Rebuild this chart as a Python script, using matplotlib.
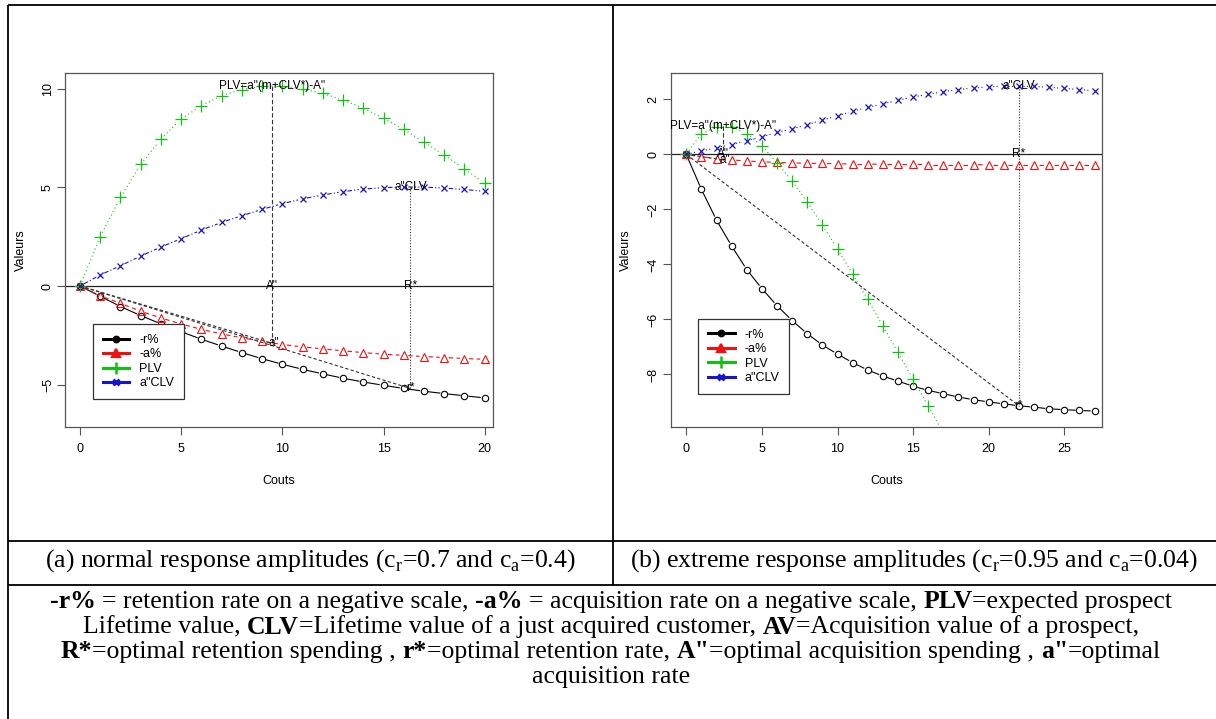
import numpy as np
import matplotlib
matplotlib.use("Agg")
import matplotlib.pyplot as plt
from matplotlib.lines import Line2D

plt.rcParams['font.family'] = ['Liberation Sans', 'DejaVu Sans']

# ---- data ----
x_left = np.arange(21)
r_left = [0, -0.52, -1.04, -1.50, -1.92, -2.32, -2.70, -3.05, -3.38, -3.69, -3.97,
          -4.23, -4.46, -4.68, -4.87, -5.04, -5.20, -5.34, -5.46, -5.57, -5.68]
a_left = [0, -0.50, -0.88, -1.28, -1.62, -1.93, -2.20, -2.43, -2.63, -2.81, -2.97,
          -3.09, -3.19, -3.29, -3.38, -3.46, -3.52, -3.58, -3.63, -3.68, -3.72]
plv_left = [0, 2.50, 4.50, 6.18, 7.45, 8.48, 9.15, 9.66, 9.97, 10.14, 10.15,
            10.0, 9.77, 9.44, 9.02, 8.51, 7.95, 7.29, 6.65, 5.94, 5.21]
aclv_left = [0, 0.56, 1.03, 1.52, 1.98, 2.40, 2.84, 3.23, 3.57, 3.89, 4.18,
             4.42, 4.62, 4.79, 4.92, 4.99, 5.03, 5.02, 4.97, 4.90, 4.80]

x_right = np.arange(28)
r_right = [0, -1.27, -2.39, -3.33, -4.19, -4.88, -5.50, -6.04, -6.52, -6.93, -7.26,
           -7.57, -7.84, -8.06, -8.24, -8.43, -8.58, -8.70, -8.82, -8.92, -9.00,
           -9.07, -9.14, -9.19, -9.25, -9.28, -9.31, -9.33]
a_right = [0, -0.08, -0.15, -0.20, -0.24, -0.27, -0.29, -0.31, -0.32, -0.33, -0.34,
           -0.35, -0.35, -0.36, -0.36, -0.36, -0.37, -0.37, -0.37, -0.37, -0.38,
           -0.38, -0.38, -0.38, -0.38, -0.38, -0.38, -0.38]
plv_right = [0, 0.76, 1.00, 1.00, 0.76, 0.31, -0.31, -0.97, -1.73, -2.58, -3.43,
             -4.35, -5.27, -6.24, -7.20, -8.18, -9.15, -10.13]
aclv_right = [0, 0.13, 0.24, 0.36, 0.50, 0.64, 0.80, 0.93, 1.08, 1.25, 1.40,
              1.57, 1.71, 1.84, 1.97, 2.09, 2.19, 2.28, 2.36, 2.41, 2.46,
              2.48, 2.48, 2.47, 2.44, 2.40, 2.36, 2.31]

# optimum points (A'', PLV max, a'', R*, a''CLV, r*)
opt_left = dict(A=9.47, plv=10.15, a=-2.9, R=16.33, aclv=5.03, r=-5.2)
opt_right = dict(A=2.45, plv=1.05, a=-0.2, R=22.0, aclv=2.48, r=-9.14)

series_names = ['-r%', '-a%', 'PLV', 'a"CLV']
caption_a = r'(a) normal response amplitudes (c$_\mathregular{r}$=0.7 and c$_\mathregular{a}$=0.4)'
caption_b = r'(b) extreme response amplitudes (c$_\mathregular{r}$=0.95 and c$_\mathregular{a}$=0.04)'
note_lines = [
    [('-r%', 1), (' = retention rate on a negative scale, ', 0), ('-a%', 1),
     (' = acquisition rate on a negative scale, ', 0), ('PLV', 1), ('=expected prospect', 0)],
    [('Lifetime value, ', 0), ('CLV', 1), ('=Lifetime value of a just acquired customer, ', 0),
     ('AV', 1), ('=Acquisition value of a prospect,', 0)],
    [('R*', 1), ('=optimal retention spending , ', 0), ('r*', 1), ('=optimal retention rate, ', 0),
     ('A"', 1), ('=optimal acquisition spending , ', 0), ('a"', 1), ('=optimal', 0)],
    [('acquisition rate', 0)],
]

RED, GREEN, BLUE = '#ee1111', '#11c011', '#1515cc'

W, H = 1216, 719
fig = plt.figure(figsize=(W / 100, H / 100), dpi=100)

# background axes in pixel units for the table frame and captions
bg = fig.add_axes([0, 0, 1, 1], zorder=-1)
bg.set_xlim(0, W)
bg.set_ylim(H, 0)
bg.axis('off')
lk = dict(color='black', lw=1.3, solid_capstyle='butt')
bg.plot([7.5, 7.5], [4.5, 719], **lk)
bg.plot([7.5, 1216], [4.5, 4.5], **lk)
bg.plot([7.5, 1216], [540.5, 540.5], **lk)
bg.plot([7.5, 1216], [585, 585], **lk)
bg.plot([612.5, 612.5], [4.5, 585], **lk)

serif = 'Liberation Serif'
FS = 18.5
bg.text(310, 561, caption_a, family=serif, fontsize=FS, ha='center', va='center')
bg.text(914, 561, caption_b, family=serif, fontsize=FS, ha='center', va='center')

renderer = fig.canvas.get_renderer()


def text_w(s, bold):
    t = bg.text(0, 0, s, family=serif, fontsize=FS, fontweight='bold' if bold else 'normal')
    w = t.get_window_extent(renderer).width
    t.remove()
    return w


space_w = text_w('a a', 0) - text_w('aa', 0)


def rich_line(xc, y, parts):
    pieces = []
    total = 0
    for s, b in parts:
        lead = len(s) - len(s.lstrip(' '))
        trail = len(s) - len(s.rstrip(' '))
        core = s.strip(' ')
        w = text_w(core, b)
        pieces.append((core, b, lead * space_w, w, trail * space_w))
        total += lead * space_w + w + trail * space_w
    x = xc - total / 2
    for core, b, l, w, t in pieces:
        x += l
        bg.text(x, y, core, family=serif, fontsize=FS, fontweight='bold' if b else 'normal',
                ha='left', va='center')
        x += w + t


for i, line in enumerate(note_lines):
    rich_line(611, 602 + i * 25, line)


def gapline(ax, x, y, gap=4.5, **kw):
    # R type="b": segments with a gap around each point
    pts = ax.transData.transform(np.column_stack([x, y]))
    inv = ax.transData.inverted()
    for p, q in zip(pts[:-1], pts[1:]):
        d = q - p
        L = np.hypot(*d)
        if L <= 2 * gap:
            continue
        u = d / L
        a = inv.transform(p + u * gap)
        b = inv.transform(q - u * gap)
        ax.plot([a[0], b[0]], [a[1], b[1]], clip_on=True, **kw)


def panel(rect, xlim, ylim, xticks, yticks, x, r, a, plv, aclv, opt, ls_aclv):
    ax = fig.add_axes(rect)
    ax.set_xlim(*xlim)
    ax.set_ylim(*ylim)
    for s in ax.spines.values():
        s.set_color('#555555')
        s.set_linewidth(0.9)
    ax.set_xticks(xticks)
    ax.set_yticks(yticks)
    ax.tick_params(direction='out', length=6, width=0.8, color='#555555', labelsize=9, pad=6)
    ax.tick_params(axis='y', labelrotation=90, pad=2)
    for lb in ax.get_yticklabels():
        lb.set_va('center')
    ax.set_xlabel('Couts', fontsize=9, labelpad=14)
    ax.set_ylabel('Valeurs', fontsize=9, labelpad=11)

    ax.axhline(0, color='#222222', lw=0.9, zorder=1)

    gapline(ax, x, r, color='black', lw=0.8, ls='-')
    ax.plot(x, r, ls='none', marker='o', ms=4.6, mfc='none', mec='black', mew=0.8)
    gapline(ax, x, a, color=RED, lw=0.8, ls=(0, (4, 3)))
    ax.plot(x, a, ls='none', marker='^', ms=5.5, mfc='none', mec=RED, mew=0.8)
    gapline(ax, x[:len(plv)], plv, color=GREEN, lw=0.8, ls=(0, (1, 2.5)))
    ax.plot(x[:len(plv)], plv, ls='none', marker='+', ms=8, mec=GREEN, mew=0.9)
    gapline(ax, x, aclv, color=BLUE, lw=0.8, ls=ls_aclv)
    ax.plot(x, aclv, ls='none', marker='x', ms=5, mec=BLUE, mew=0.9)

    # optimum construction lines
    ax.plot([opt['A'], opt['A']], [opt['plv'], opt['a']], color='#333333', lw=0.8, ls=(0, (4, 2)))
    ax.plot([opt['R'], opt['R']], [opt['aclv'], opt['r']], color='#333333', lw=0.8, ls=(0, (1, 1.5)))
    ax.plot([0, opt['A']], [0, opt['a']], color='#333333', lw=0.8, ls=(0, (3, 2)))
    ax.plot([0, opt['R']], [0, opt['r']], color='#333333', lw=0.8, ls=(0, (3, 2)))

    tk = dict(fontsize=8.5, ha='center', va='center')
    ax.text(opt['A'], opt['plv'], 'PLV=a"(m+CLV*)-A"', **tk)
    ax.text(opt['A'], 0, 'A"', **tk)
    ax.text(opt['A'] + 0.1, opt['a'], 'a"', **tk)
    ax.text(opt['R'], opt['aclv'], 'a"CLV', **tk)
    ax.text(opt['R'], 0, 'R*', **tk)
    ax.text(opt['R'], opt['r'], 'r*', **tk)
    return ax


ax1 = panel([65 / W, 1 - 426.7 / H, 428 / W, 353.7 / H], (-0.74, 20.41), (-7.14, 10.81),
            [0, 5, 10, 15, 20], [-5, 0, 5, 10],
            x_left, r_left, a_left, plv_left, aclv_left, opt_left, (0, (4, 2, 1, 2)))
ax2 = panel([670.7 / W, 1 - 426.7 / H, 431.3 / W, 353.7 / H], (-1.03, 27.49), (-9.9, 2.96),
            [0, 5, 10, 15, 20, 25], [-8, -6, -4, -2, 0, 2],
            x_right, r_right, a_right, plv_right, aclv_right, opt_right, (0, (1, 2)))

handles = [
    Line2D([], [], color='black', lw=2.2, marker='o', ms=4, mfc='none', mew=1.6),
    Line2D([], [], color=RED, lw=2.2, marker='^', ms=6, mfc=RED, mew=1.6),
    Line2D([], [], color=GREEN, lw=2.2, marker='+', ms=9, mew=1.8),
    Line2D([], [], color=BLUE, lw=2.2, marker='x', ms=5, mew=2.0),
]
for ax, pos in [(ax1, (0.066, 0.077)), (ax2, (0.064, 0.092))]:
    lg = ax.legend(handles, series_names, loc='lower left', bbox_to_anchor=pos,
                   borderaxespad=0, fontsize=9, fancybox=False, framealpha=1,
                   edgecolor='#333333', handlelength=2.1, handletextpad=0.8,
                   labelspacing=0.2, borderpad=0.8)
    lg.get_frame().set_linewidth(0.9)

fig.savefig('out.png', dpi=100)
